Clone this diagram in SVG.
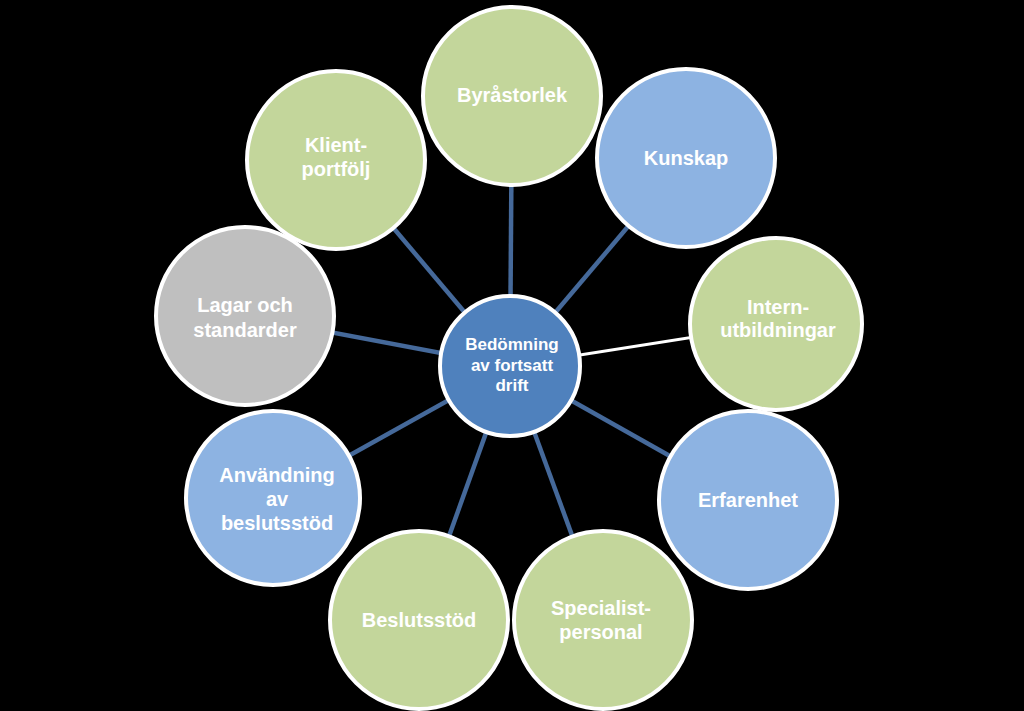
<svg xmlns="http://www.w3.org/2000/svg" width="1024" height="711" viewBox="0 0 1024 711">
<style>
.c{stroke:#ffffff;stroke-width:4}
.g{fill:#c3d69b}
.b{fill:#8db3e2}
.gr{fill:#bfbfbf}
.m{fill:#4f81bd}
.t{font-family:"Liberation Sans",Arial,sans-serif;font-weight:bold;font-size:20px;fill:#ffffff;text-anchor:middle}
.tc{font-size:17px}
.l{stroke:#45699a;stroke-width:4.5}
</style>
<rect width="1024" height="711" fill="#000000"/>
<g id="connectors">
<line class="l" x1="510" y1="366" x2="512" y2="96"/>
<line class="l" x1="510" y1="366" x2="686" y2="158"/>
<line x1="510" y1="366" x2="776" y2="324" stroke="#ffffff" stroke-width="3"/>
<line class="l" x1="510" y1="366" x2="748" y2="500"/>
<line class="l" x1="510" y1="366" x2="603" y2="620"/>
<line class="l" x1="510" y1="366" x2="419" y2="620"/>
<line class="l" x1="510" y1="366" x2="273" y2="498"/>
<line class="l" x1="510" y1="366" x2="245" y2="316"/>
<line class="l" x1="510" y1="366" x2="336" y2="160"/>
</g>
<g id="byrastorlek"><circle class="c g" cx="512" cy="96" r="89"/><text class="t" x="512" y="102">Byråstorlek</text></g>
<g id="kunskap"><circle class="c b" cx="686" cy="158" r="89"/><text class="t" x="686" y="165">Kunskap</text></g>
<g id="internutbildningar"><circle class="c g" cx="776" cy="324" r="86"/><text class="t" x="778" y="314">Intern-</text><text class="t" x="778" y="337">utbildningar</text></g>
<g id="erfarenhet"><circle class="c b" cx="748" cy="500" r="89"/><text class="t" x="748" y="507">Erfarenhet</text></g>
<g id="specialistpersonal"><circle class="c g" cx="603" cy="620" r="89"/><text class="t" x="601" y="615">Specialist-</text><text class="t" x="601" y="639">personal</text></g>
<g id="beslutsstod"><circle class="c g" cx="419" cy="620" r="89"/><text class="t" x="419" y="627">Beslutsstöd</text></g>
<g id="anvandning"><circle class="c b" cx="273" cy="498" r="87"/><text class="t" x="277" y="482">Användning</text><text class="t" x="277" y="506">av</text><text class="t" x="277" y="530">beslutsstöd</text></g>
<g id="lagar"><circle class="c gr" cx="245" cy="316" r="89"/><text class="t" x="245" y="312">Lagar och</text><text class="t" x="245" y="337">standarder</text></g>
<g id="klientportfolj"><circle class="c g" cx="336" cy="160" r="89"/><text class="t" x="336" y="152">Klient-</text><text class="t" x="336" y="176">portfölj</text></g>
<g id="center"><circle class="c m" cx="510" cy="366" r="70"/><text class="t tc" x="512" y="350">Bedömning</text><text class="t tc" x="512" y="371">av fortsatt</text><text class="t tc" x="512" y="391">drift</text></g>
</svg>
